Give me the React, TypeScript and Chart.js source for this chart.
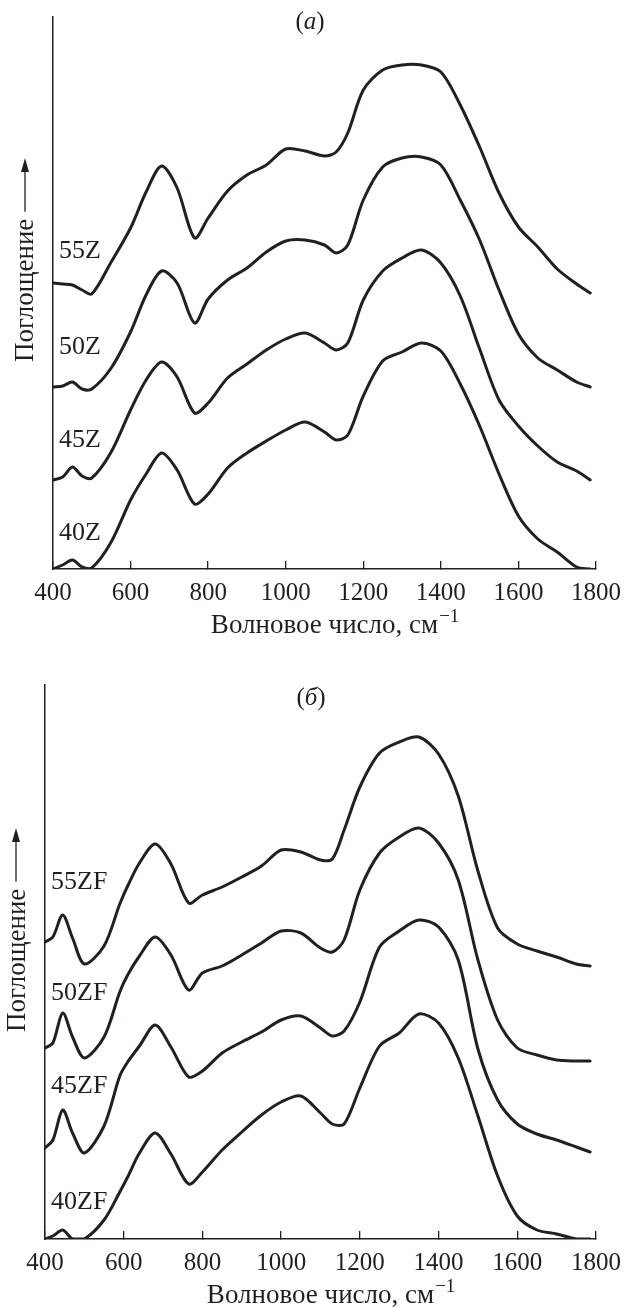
import { useEffect, useRef } from 'react';
import { Chart, registerables } from 'chart.js';

Chart.register(...registerables);

const INK = '#231f20';
const SERIF = '"Liberation Serif", "Times New Roman", "DejaVu Serif", serif';

// ---------- Panel (а) ----------
const wavenumbersA = [400, 425, 450, 475, 500, 550, 600, 640, 680, 720, 765, 800, 850, 900, 950, 1000, 1050, 1100, 1130, 1160, 1200, 1250, 1300, 1350, 1400, 1450, 1500, 1550, 1600, 1650, 1700, 1750, 1785];
const s55Z = [286, 285, 284, 279, 275, 307, 341, 377, 403, 381, 331, 351, 378, 394, 404, 420, 418, 413, 417, 436, 479, 499, 504, 504, 497, 464, 422, 376, 342, 322, 300, 285, 276];
const s50Z = [182, 183, 187, 180, 180, 201, 237, 274, 298, 286, 246, 270, 289, 301, 317, 328, 329, 324, 316, 324, 369, 402, 411, 412, 404, 369, 329, 279, 235, 211, 199, 187, 182];
const s45Z = [89, 92, 102, 93, 91, 117, 159, 189, 207, 192, 156, 166, 191, 205, 219, 230, 236, 226, 219, 226, 269, 298, 311, 319, 306, 273, 220, 169, 143, 123, 107, 98, 89];
const s40Z = [0, 4, 9, 2, 1, 27, 69, 95, 116, 99, 65, 75, 101, 116, 128, 139, 147, 137, 129, 134, 173, 208, 217, 226, 218, 185, 143, 95, 53, 30, 17, 2, 0];
const namesA = ['55Z', '50Z', '45Z', '40Z'];

// ---------- Panel (б) ----------
const wavenumbersB = [400, 420, 445, 470, 500, 550, 590, 610, 640, 680, 720, 765, 800, 850, 900, 950, 1000, 1050, 1100, 1130, 1160, 1200, 1250, 1300, 1350, 1400, 1450, 1500, 1550, 1600, 1650, 1700, 1750, 1785];
const s55ZF = [297, 302, 324, 301, 275, 293, 335, 353, 376, 395, 375, 336, 344, 352, 362, 373, 389, 387, 379, 380, 409, 452, 486, 497, 502, 485, 443, 368, 311, 295, 288, 282, 275, 273];
const s50ZF = [191, 196, 226, 202, 181, 202, 247, 264, 283, 302, 284, 249, 266, 273, 284, 296, 308, 306, 291, 287, 299, 349, 386, 402, 411, 396, 359, 279, 219, 191, 184, 179, 178, 178];
const s45ZF = [91, 99, 129, 106, 86, 113, 163, 177, 193, 214, 192, 162, 168, 186, 197, 207, 219, 223, 211, 203, 208, 237, 292, 308, 319, 312, 279, 190, 139, 115, 105, 99, 92, 87];
const s40ZF = [0, 3, 9, 0, 0, 19, 47, 62, 86, 106, 85, 55, 67, 89, 107, 124, 137, 143, 126, 115, 115, 151, 193, 206, 225, 216, 181, 123, 63, 23, 9, 5, 0, 0];
const namesB = ['55ZF', '50ZF', '45ZF', '40ZF'];

const xMin = 400;
const xMax = 1800;
const xStep = 200;

const FS_TICK = 25;
const FS_NAME = 26;
const FS_TEXT = 27;
const FS_LETTER = 25;

const annotPlugin = {
  id: 'annot',
  afterDraw(chart: any, _args: any, o: any) {
    const { ctx, chartArea: ca } = chart;
    const f = (size: number, style = '') => `${style} ${size}px ${SERIF}`.trim();
    ctx.save();
    ctx.fillStyle = INK;
    ctx.strokeStyle = INK;
    ctx.textBaseline = 'alphabetic';
    ctx.textAlign = 'left';

    // panel letter "(а)" with italic letter
    ctx.font = f(FS_LETTER);
    const wOpen = ctx.measureText('(').width;
    const wClose = ctx.measureText(')').width;
    ctx.font = f(FS_LETTER, 'italic');
    const wMid = ctx.measureText(o.letter).width;
    let x = o.titleX - (wOpen + wMid + wClose) / 2;
    ctx.font = f(FS_LETTER);
    ctx.fillText('(', x, o.titleBaseline);
    x += wOpen;
    ctx.font = f(FS_LETTER, 'italic');
    ctx.fillText(o.letter, x, o.titleBaseline);
    x += wMid;
    ctx.font = f(FS_LETTER);
    ctx.fillText(')', x, o.titleBaseline);

    // curve names
    ctx.font = f(FS_NAME);
    o.names.forEach((n: string, i: number) => {
      ctx.fillText(n, ca.left + o.nameDx, o.nameBaselines[i]);
    });

    // x title with superscript
    ctx.font = f(FS_TEXT);
    const main = 'Волновое число, см';
    const wMain = ctx.measureText(main).width;
    const cx = (ca.left + ca.right) / 2;
    const by = ca.bottom + o.xTitleDy;
    ctx.fillText(main, cx - wMain / 2, by);
    ctx.font = f(Math.round(FS_TEXT * 0.72));
    ctx.fillText('−1', cx + wMain / 2 + 1, by - FS_TEXT * 0.42);

    // y title, rotated, with arrow
    ctx.save();
    ctx.translate(o.yTitleX, o.yTitleStart);
    ctx.rotate(-Math.PI / 2);
    ctx.font = f(FS_TEXT);
    ctx.fillText('Поглощение', 0, 0);
    const wy = ctx.measureText('Поглощение').width;
    const a1 = o.yTitleStart - o.arrowTip;
    const a0 = wy + o.arrowGap;
    const ay = -o.arrowOffset;
    ctx.lineWidth = 1.3;
    ctx.beginPath();
    ctx.moveTo(a0, ay);
    ctx.lineTo(a1 - 8, ay);
    ctx.stroke();
    ctx.beginPath();
    ctx.moveTo(a1, ay);
    ctx.lineTo(a1 - 14, ay - 4);
    ctx.lineTo(a1 - 14, ay + 4);
    ctx.closePath();
    ctx.fill();
    ctx.restore();

    ctx.restore();
  },
};

function makeConfig(p: any): any {
  return {
    type: 'line',
    data: {
      datasets: p.series.map((vals: number[], i: number) => ({
        label: p.names[i],
        data: p.wn.map((w: number, j: number) => ({ x: w, y: vals[j] })),
        borderColor: INK,
        borderWidth: 3,
        pointRadius: 0,
        fill: false,
        tension: 0.3,
        borderJoinStyle: 'round',
        borderCapStyle: 'round',
      })),
    },
    options: {
      animation: false,
      responsive: false,
      maintainAspectRatio: false,
      events: [],
      layout: { padding: p.padding },
      plugins: {
        legend: { display: false },
        tooltip: { enabled: false },
        annot: p.annot,
      },
      scales: {
        x: {
          type: 'linear',
          min: xMin,
          max: xMax,
          afterFit: (s: any) => {
            s.height = p.xHeight;
          },
          ticks: {
            stepSize: xStep,
            autoSkip: false,
            maxRotation: 0,
            padding: 17,
            color: INK,
            font: { family: SERIF, size: FS_TICK },
            callback: (v: any) => String(v),
          },
          grid: {
            display: true,
            drawOnChartArea: false,
            drawTicks: true,
            tickLength: -8,
            color: INK,
            lineWidth: 1.3,
          },
          border: { display: true, color: INK, width: 1.5 },
        },
        y: {
          type: 'linear',
          min: 0,
          max: p.yMax,
          afterFit: (s: any) => {
            s.width = 0;
          },
          ticks: { display: false },
          grid: { display: false },
          border: { display: true, color: INK, width: 1.5 },
        },
      },
    },
    plugins: [annotPlugin],
  };
}

const panelA = {
  wn: wavenumbersA,
  series: [s55Z, s50Z, s45Z, s40Z],
  names: namesA,
  height: 650,
  padding: { left: 53, right: 28, top: 17, bottom: 0 },
  xHeight: 81,
  yMax: 552,
  annot: {
    letter: 'а',
    titleX: 310,
    titleBaseline: 29,
    names: namesA,
    nameDx: 6,
    nameBaselines: [258, 354, 447, 540],
    xTitleDy: 64,
    yTitleX: 33,
    yTitleStart: 362,
    arrowTip: 158,
    arrowGap: 7,
    arrowOffset: 8,
  },
};

const panelB = {
  wn: wavenumbersB,
  series: [s55ZF, s50ZF, s45ZF, s40ZF],
  names: namesB,
  height: 657,
  padding: { left: 45, right: 37, top: 35, bottom: 0 },
  xHeight: 68,
  yMax: 554,
  annot: {
    letter: 'б',
    titleX: 311,
    titleBaseline: 55,
    names: namesB,
    nameDx: 6,
    nameBaselines: [239, 350, 443, 559],
    xTitleDy: 64,
    yTitleX: 25,
    yTitleStart: 382,
    arrowTip: 178,
    arrowGap: 7,
    arrowOffset: 9,
  },
};

function Panel({ p, top }: { p: any; top: number }) {
  const ref = useRef<HTMLCanvasElement | null>(null);
  useEffect(() => {
    if (!ref.current) return;
    const chart = new Chart(ref.current, makeConfig(p));
    return () => chart.destroy();
  }, [p]);
  return (
    <div style={{ position: 'absolute', left: 0, top, width: 638, height: p.height }}>
      <canvas ref={ref} width={638} height={p.height} style={{ display: 'block', width: 638, height: p.height }} />
    </div>
  );
}

export default function App() {
  return (
    <div style={{ position: 'absolute', left: 0, top: 0, width: 638, height: 1307, background: '#fff' }}>
      <Panel p={panelA} top={0} />
      <Panel p={panelB} top={650} />
    </div>
  );
}
